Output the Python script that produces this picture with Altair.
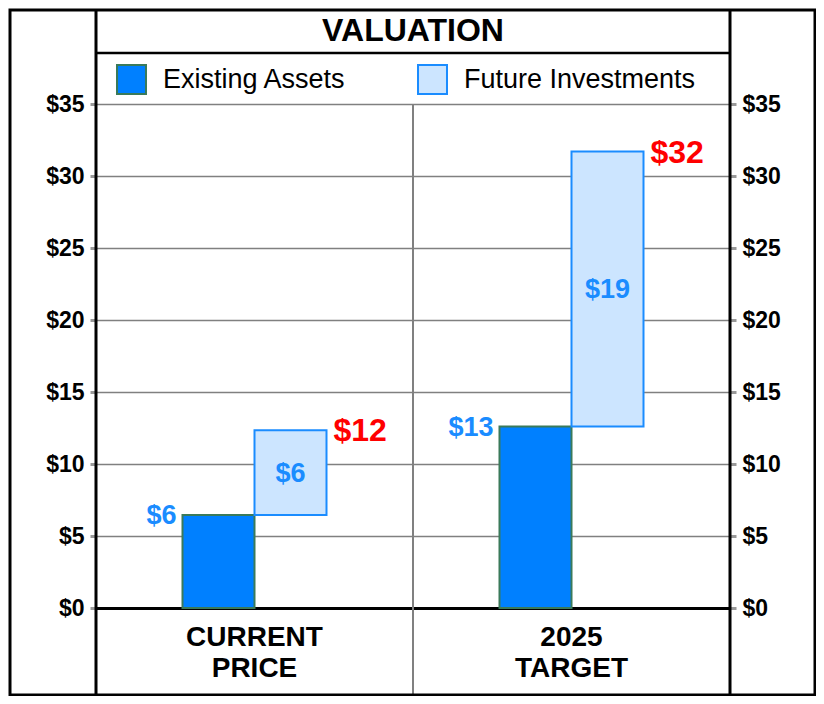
import altair as alt
import pandas as pd

categories = ["CURRENT PRICE", "2025 TARGET"]
series = ["Existing Assets", "Future Investments"]
existing = [6.45, 12.6]
future = [5.9, 19.1]
y_ticks = [0, 5, 10, 15, 20, 25, 30, 35]

fills = ["#0080FF", "#CCE5FF"]
strokes = ["#3A7A5A", "#1A8CFF"]

rows = []
for c, e, f in zip(categories, existing, future):
    rows.append(dict(category=c, series=series[0], start=0.0, end=e, value=e, mid=e / 2))
    rows.append(dict(category=c, series=series[1], start=e, end=e + f, value=f, mid=e + f / 2))
df = pd.DataFrame(rows)

FONT = "Liberation Sans"
W, H = 634, 504
PI = 0.545741
PO = PI / 2

x_axis = alt.Axis(
    title=None, labelExpr="split(datum.label, ' ')", labelFont=FONT, labelFontSize=28,
    labelFontWeight="bold", labelColor="black", labelLineHeight=31, ticks=False,
    labelPadding=15, domainColor="black", domainWidth=3, grid=False, labelAngle=0,
)
x_scale = alt.Scale(domain=categories, paddingInner=PI, paddingOuter=PO)
X = alt.X("category:N", scale=x_scale, axis=x_axis)
XO = alt.XOffset("series:N", scale=alt.Scale(domain=series, paddingInner=0, paddingOuter=0))
y_scale = alt.Scale(domain=[0, 35], nice=False, zero=True)

def y_axis(orient, grid):
    return alt.Axis(
        orient=orient, title=None, values=y_ticks, format="$,.0f", labelFont=FONT,
        labelFontSize=23, labelFontWeight="bold", labelColor="black", tickSize=6,
        tickWidth=3, tickColor="#999999", labelPadding=6, domain=False, grid=grid,
        gridColor="#808080", gridWidth=1.5,
    )

blank = alt.Data(values=[{}])

frame = alt.Chart(blank).mark_rect(fillOpacity=0, stroke="black", strokeWidth=3).encode(
    x=alt.value(-86), x2=alt.value(719), y=alt.value(-94), y2=alt.value(591)
)
left_v = alt.Chart(blank).mark_rule(color="black", strokeWidth=3).encode(
    x=alt.value(0), y=alt.value(-94), y2=alt.value(591)
)
right_v = alt.Chart(blank).mark_rule(color="black", strokeWidth=3).encode(
    x=alt.value(W), y=alt.value(-94), y2=alt.value(591)
)
title_sep = alt.Chart(blank).mark_rule(color="black", strokeWidth=2.5).encode(
    x=alt.value(0), x2=alt.value(W), y=alt.value(-51)
)
divider = alt.Chart(blank).mark_rule(color="#808080", strokeWidth=2).encode(
    x=alt.value(W / 2), y=alt.value(0), y2=alt.value(591),
)

leg = dict(
    title=None, orient="none", legendX=20, legendY=-40, direction="horizontal",
    symbolType="square", symbolSize=840, symbolStrokeWidth=2, labelFont=FONT,
    labelFontSize=27, labelColor="black", labelOffset=16, columnPadding=67,
    padding=0, labelLimit=400,
)

bars = alt.Chart(df).mark_bar(strokeWidth=2).encode(
    x=X, xOffset=XO,
    y=alt.Y("end:Q", scale=y_scale, axis=y_axis("left", True)),
    y2="start:Q",
    color=alt.Color("series:N", scale=alt.Scale(domain=series, range=fills),
                    legend=alt.Legend(**leg)),
    stroke=alt.Stroke("series:N", scale=alt.Scale(domain=series, range=strokes),
                      legend=alt.Legend(**leg)),
)

base = alt.Chart(df)
existing_lbl = base.transform_filter(alt.datum.series == series[0]).mark_text(
    align="right", baseline="middle", dx=-42, dy=1, font=FONT, fontSize=27,
    fontWeight="bold", color="#1A8CFF",
).encode(
    x=X, xOffset=XO,
    y=alt.Y("end:Q", scale=y_scale, axis=None),
    text=alt.Text("value:Q", format="$.0f"),
)
future_lbl = base.transform_filter(alt.datum.series == series[1]).mark_text(
    align="center", baseline="middle", dy=1, font=FONT, fontSize=27,
    fontWeight="bold", color="#1A8CFF",
).encode(
    x=X, xOffset=XO,
    y=alt.Y("mid:Q", scale=y_scale, axis=None),
    text=alt.Text("value:Q", format="$.0f"),
)
total_lbl = base.transform_filter(alt.datum.series == series[1]).mark_text(
    align="left", baseline="middle", dx=43, dy=1, font=FONT, fontSize=32,
    fontWeight="bold", color="#FF0000",
).encode(
    x=X, xOffset=XO,
    y=alt.Y("end:Q", scale=y_scale, axis=y_axis("right", False)),
    text=alt.Text("end:Q", format="$.0f"),
)

chart = alt.layer(
    divider, bars, existing_lbl, future_lbl, total_lbl,
    frame, left_v, right_v, title_sep,
).resolve_scale(y="shared").resolve_axis(y="independent").properties(
    width=W, height=H,
    title=alt.TitleParams(
        "VALUATION", font=FONT, fontSize=32, fontWeight="bold", color="black",
        anchor="middle", frame="group", baseline="alphabetic", offset=-64,
    ),
    autosize=alt.AutoSizeParams(type="none"),
    padding={"left": 88, "top": 96, "right": 86, "bottom": 88},
).configure_view(stroke=None).configure(background="white")

chart.save("out.html", embed_options={"renderer": "svg", "actions": False})
